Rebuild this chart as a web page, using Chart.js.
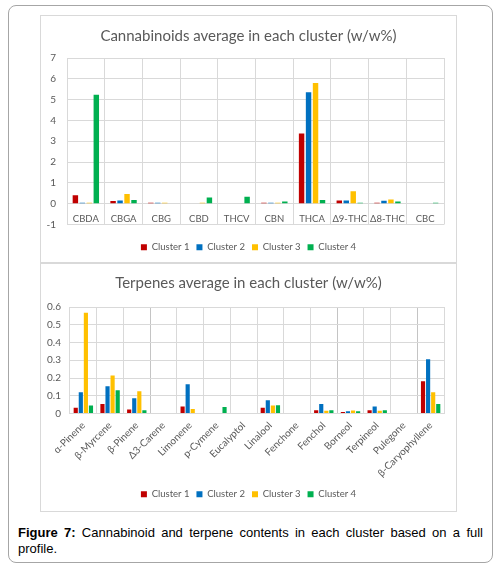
<!DOCTYPE html>
<html>
<head>
<meta charset="utf-8">
<script src="https://cdn.jsdelivr.net/npm/chart.js@4"></script>
<style>
  body { margin: 0; width: 498px; height: 569px; background: #fff; position: relative; overflow: hidden; }
  .frame { position: absolute; left: 8px; top: 5px; width: 483px; height: 556px; border: 1.5px solid #a6a6a6; border-radius: 8px; }
  .box { position: absolute; left: 40px; width: 415px; border: 1px solid #d9d9d9; background: #fff; }
  .box canvas { position: absolute; left: 0; top: 0; }
  #boxTop { top: 15px; height: 246px; }
  #boxBottom { top: 263px; height: 247px; }
  .caption { position: absolute; left: 18px; top: 525px; width: 465px; font-family: "Liberation Sans", Arial, sans-serif; font-size: 13px; line-height: 15.5px; text-align: justify; color: #000; }
</style>
</head>
<body>
<div class="frame"></div>
<div class="box" id="boxTop"><canvas id="cannChart" width="415" height="246"></canvas></div>
<div class="box" id="boxBottom"><canvas id="terpChart" width="415" height="247"></canvas></div>
<div class="caption"><b>Figure 7:</b> Cannabinoid and terpene contents in each cluster based on a full profile.</div>
<script>
// cannabinoid data (w/w%)
const cannLabels = ['CBDA', 'CBGA', 'CBG', 'CBD', 'THCV', 'CBN', 'THCA', 'Δ9-THC', 'Δ8-THC', 'CBC'];
const cannCluster1 = [0.40, 0.13, 0.05, 0, 0, 0.05, 3.37, 0.15, 0.05, 0];
const cannCluster2 = [0.05, 0.15, 0.05, 0, 0, 0.05, 5.35, 0.15, 0.14, 0];
const cannCluster3 = [0.05, 0.46, 0.05, 0.05, 0, 0.05, 5.80, 0.60, 0.20, 0];
const cannCluster4 = [5.23, 0.18, 0, 0.30, 0.33, 0.10, 0.18, 0.05, 0.10, 0.05];

// terpene data (w/w%)
const terpLabels = ['α-Pinene', 'β-Myrcene', 'β-Pinene', 'Δ3-Carene', 'Limonene', 'p-Cymene', 'Eucalyptol',
    'Linalool', 'Fenchone', 'Fenchol', 'Borneol', 'Terpineol', 'Pulegone', 'β-Caryophyllene'];
const terpCluster1 = [0.032, 0.054, 0.023, 0, 0.040, 0, 0, 0.032, 0, 0.019, 0.009, 0.019, 0, 0.182];
const terpCluster2 = [0.120, 0.154, 0.086, 0, 0.165, 0, 0, 0.075, 0.003, 0.053, 0.013, 0.040, 0, 0.306];
const terpCluster3 = [0.567, 0.214, 0.126, 0, 0.025, 0, 0, 0.045, 0, 0.015, 0.017, 0.015, 0, 0.120];
const terpCluster4 = [0.045, 0.131, 0.019, 0.003, 0, 0.036, 0, 0.047, 0, 0.019, 0.013, 0.019, 0, 0.054];

const clusterNames = ['Cluster 1', 'Cluster 2', 'Cluster 3', 'Cluster 4'];
const clusterColors = ['#C00000', '#0070C0', '#FFC000', '#00B050'];

const textColor = '#595959';
const gridColor = '#d9d9d9';
const fontFamily = 'Lato, "Open Sans", sans-serif';

// gom các mảng số liệu thành datasets
function makeDatasets(series, catPct, barPct) {
    return series.map((values, i) => ({
        label: clusterNames[i],
        data: values,
        xAxisID: 'x',
        yAxisID: 'y',
        backgroundColor: clusterColors[i],
        borderWidth: 0,
        categoryPercentage: catPct,
        barPercentage: barPct
    }));
}

function legendOptions() {
    return {
        position: 'bottom',
        labels: {
            boxWidth: 6,
            boxHeight: 6,
            color: textColor,
            font: { family: fontFamily, size: 9.5 },
            padding: 7
        }
    };
}

// trục rỗng chỉ để chừa khoảng trống (title và legend vẫn căn giữa cả khung)
function spacer(pos, size) {
    return {
        axis: pos === 'right' ? 'y' : 'x',
        type: 'linear',
        position: pos,
        min: 0,
        max: 1,
        grid: { display: false },
        border: { display: false },
        ticks: { display: false },
        afterFit: s => {
            if (pos === 'right') s.width = size; else s.height = size;
        }
    };
}

// biểu đồ cannabinoid
new Chart(document.getElementById('cannChart'), {
    type: 'bar',
    data: {
        labels: cannLabels,
        datasets: makeDatasets([cannCluster1, cannCluster2, cannCluster3, cannCluster4], 0.74, 0.78)
    },
    options: {
        responsive: false,
        animation: false,
        layout: { padding: { left: 0, right: 0, top: 0, bottom: 0 } },
        plugins: {
            title: {
                display: true,
                text: 'Cannabinoids average in each cluster (w/w%)',
                color: textColor,
                font: { family: fontFamily, size: 15, weight: 'normal' },
                padding: { top: 11, bottom: 13 }
            },
            legend: legendOptions(),
            tooltip: { enabled: false }
        },
        scales: {
            x: {
                position: { y: 0 },
                grid: { color: gridColor, offset: true, drawTicks: false },
                border: { display: false },
                ticks: { color: textColor, font: { family: fontFamily, size: 9.5 }, padding: 10, maxRotation: 0, autoSkip: false }
            },
            y: {
                min: -1,
                max: 7,
                ticks: { stepSize: 1, color: textColor, font: { family: fontFamily, size: 10 }, padding: 11 },
                grid: { color: gridColor, drawTicks: false },
                border: { display: false },
                afterFit: s => { s.width = 26; }
            },
            gap: spacer('bottom', 11),
            gapRight: spacer('right', 12)
        }
    }
});

// biểu đồ terpene
new Chart(document.getElementById('terpChart'), {
    type: 'bar',
    data: {
        labels: terpLabels,
        datasets: makeDatasets([terpCluster1, terpCluster2, terpCluster3, terpCluster4], 0.76, 0.82)
    },
    options: {
        responsive: false,
        animation: false,
        layout: { padding: { left: 0, right: 0, top: 0, bottom: 2 } },
        plugins: {
            title: {
                display: true,
                text: 'Terpenes average in each cluster (w/w%)',
                color: textColor,
                font: { family: fontFamily, size: 15, weight: 'normal' },
                padding: { top: 10, bottom: 15 }
            },
            legend: legendOptions(),
            tooltip: { enabled: false }
        },
        scales: {
            x: {
                grid: {
                    // vài đường lưới trong ảnh gốc đậm hơn
                    color: ctx => [3, 10, 13].includes(ctx.index) ? '#c4c4c4' : gridColor,
                    offset: true,
                    drawTicks: false
                },
                border: { display: false },
                ticks: { color: textColor, font: { family: fontFamily, size: 10 }, padding: 6, minRotation: 45, maxRotation: 45, autoSkip: false },
                afterFit: s => { s.height = 69; }
            },
            y: {
                min: 0,
                max: 0.6,
                ticks: { stepSize: 0.1, color: textColor, font: { family: fontFamily, size: 10 }, padding: 9 },
                grid: { color: gridColor, drawTicks: false },
                border: { display: false },
                afterFit: s => { s.width = 29; }
            },
            gapRight: spacer('right', 12)
        }
    }
});
</script>
</body>
</html>
